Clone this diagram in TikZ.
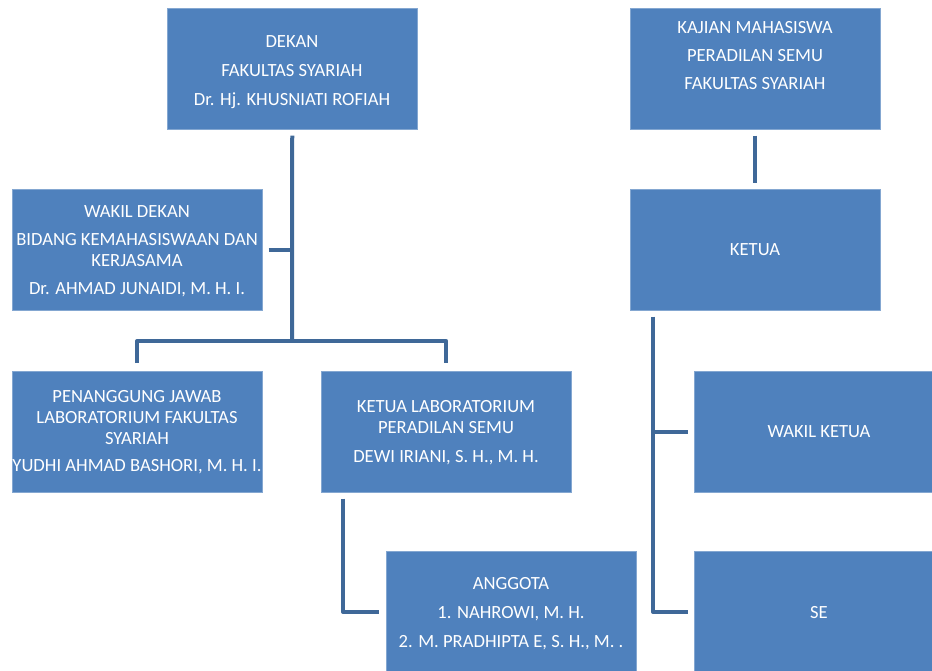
\documentclass[tikz,border=0pt]{standalone}
\usepackage{fontspec}
\setmainfont{Carlito}
\usetikzlibrary{calc}
\definecolor{boxblue}{HTML}{4F81BD}
\definecolor{linkblue}{HTML}{3F6898}
\tikzset{
  unit/.style={fill=boxblue, draw=boxblue!70!white, line width=0.5pt, inner sep=0pt,
    minimum width=250pt, minimum height=121pt, anchor=north west},
  lbl/.style={text=white, align=center, inner sep=0pt, font=\fontsize{18.6}{21}\selectfont},
  link/.style={draw=linkblue, line width=4pt, line join=round}
}
\begin{document}
\begin{tikzpicture}[x=1pt,y=-1pt]
\useasboundingbox (0,0) rectangle (932,670);
\clip (0,0) rectangle (932,670);
% boxes
\node[unit] (dekan)  at (167,8) {};
\node[unit] (wakil)  at (12,189) {};
\node[unit] (pj)     at (12,371) {};
\node[unit] (lab)    at (321,371) {};
\node[unit] (anggota) at (386,551) {};
\node[unit] (kajian) at (630,8) {};
\node[unit] (ketua)  at (630,189) {};
\node[unit] (wk)     at (694,371) {};
\node[unit] (se)     at (694,551) {};
% texts
\node[lbl] (tdekan) at (292,72) {DEKAN\\[8pt]FAKULTAS SYARIAH\\[8pt]Dr. Hj. KHUSNIATI ROFIAH};
\node[lbl] (twakil) at (137,251.5) {WAKIL DEKAN\\[7pt]BIDANG KEMAHASISWAAN DAN\\KERJASAMA\\[7pt]Dr. AHMAD JUNAIDI, M. H. I.};
\node[lbl] (tpj) at (137,432) {PENANGGUNG JAWAB\\LABORATORIUM FAKULTAS\\SYARIAH\\[6pt]YUDHI AHMAD BASHORI, M. H. I.};
\node[lbl] (tlab) at (446,432.5) {KETUA LABORATORIUM\\PERADILAN SEMU\\[8pt]DEWI IRIANI, S. H., M. H.};
\node[lbl] (tanggota) at (511,614) {ANGGOTA\\[8pt]1. NAHROWI, M. H.\\[8pt]2. M. PRADHIPTA E, S. H., M. .};
\node[lbl] (tkajian) at (755,55.5) {KAJIAN MAHASISWA\\[7pt]PERADILAN SEMU\\[7pt]FAKULTAS SYARIAH};
\node[lbl] (tketua) at (755,250) {KETUA};
\node[lbl] (twk) at (819,432) {WAKIL KETUA};
\node[lbl] (tse) at (819,613) {SE};
% connectors
\coordinate (hub) at (292,341);
\draw[link] ([yshift=-6pt]dekan.south) -- (hub);
\draw[link] ([xshift=6pt]wakil.east) -- (wakil.east -| hub);
\draw[link] ([yshift=8pt]pj.north) |- (hub) -| ([yshift=8pt]lab.north);
\draw[link] ([xshift=22pt,yshift=-6pt]lab.south west) |- ([xshift=-7pt]anggota.west);
\draw[link] ([yshift=-6pt]kajian.south) -- ([yshift=6pt]ketua.north);
\coordinate (kspine) at ([xshift=23pt,yshift=-6pt]ketua.south west);
\draw[link] (kspine) |- ([xshift=-6pt]se.west);
\draw[link] (kspine |- wk.west) -- ([xshift=-6pt]wk.west);
\end{tikzpicture}
\end{document}
